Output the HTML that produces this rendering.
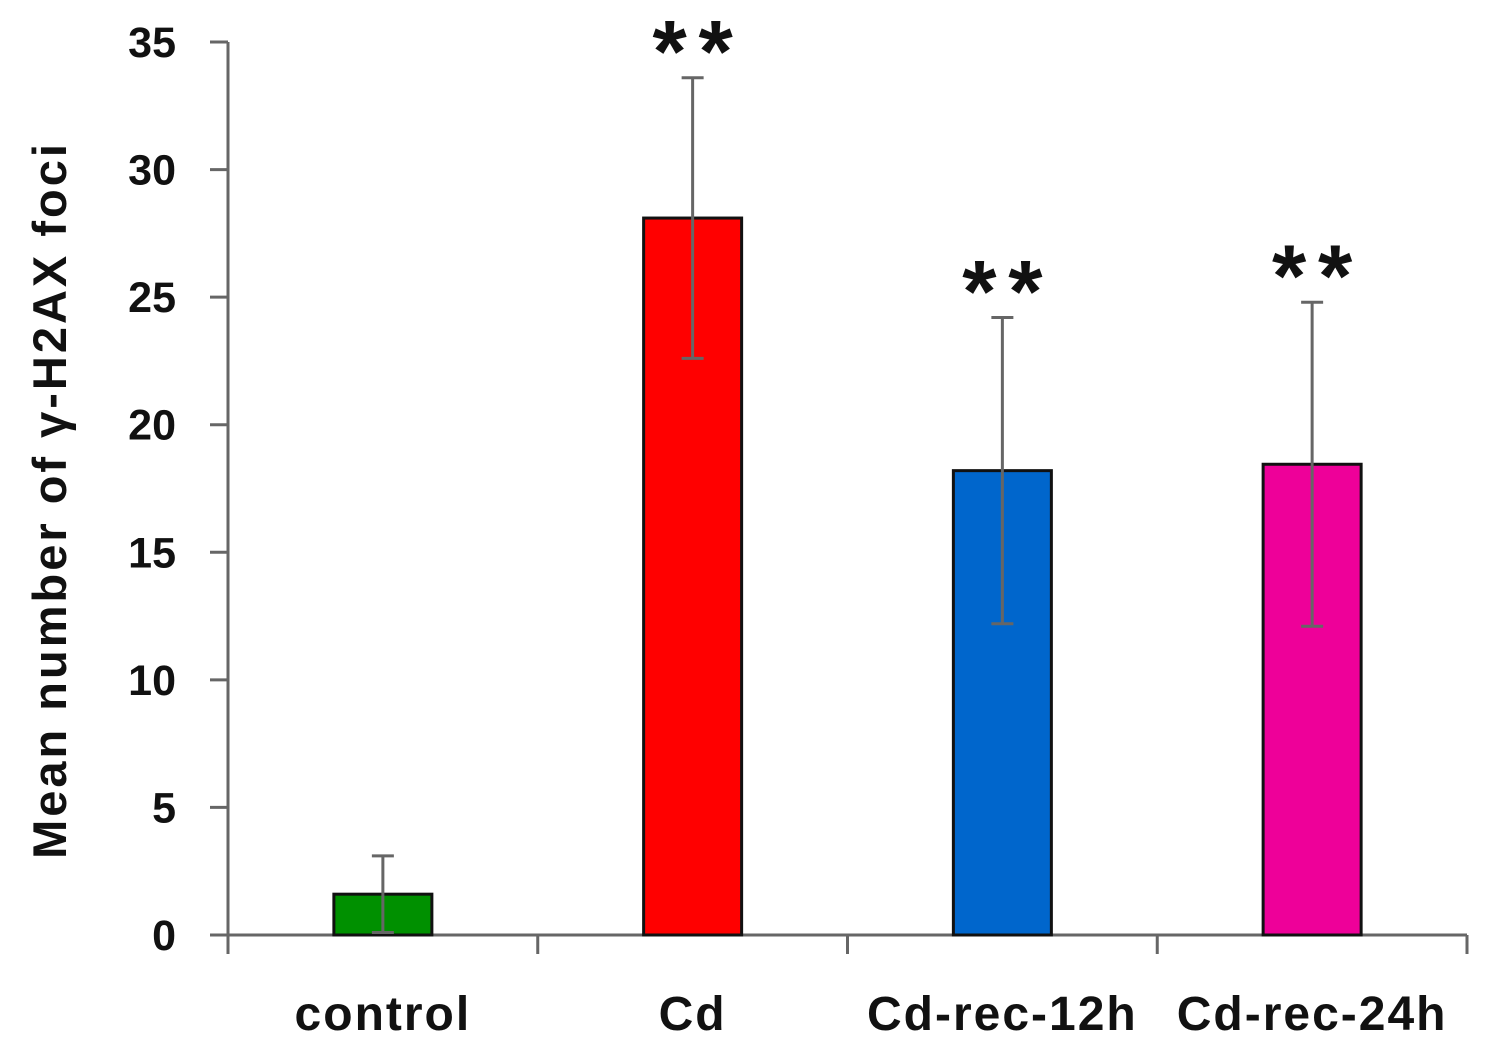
<!DOCTYPE html>
<html><head><meta charset="utf-8"><style>
html,body{margin:0;padding:0;background:#fff;}
svg{display:block;font-family:"Liberation Sans",sans-serif;}
</style></head><body>
<svg id="chart" width="1491" height="1062">
<g id="axes"></g><g id="bars"></g>
<text transform="translate(66,500) rotate(-90)" text-anchor="middle" font-size="47" font-weight="bold" letter-spacing="3" fill="#111">Mean number of  γ-H2AX foci</text>
</svg>
<script>
const categories=["control","Cd","Cd-rec-12h","Cd-rec-24h"];
const values=[1.6,28.1,18.2,18.45];
const errors=[1.5,5.5,6.0,6.35];
const colors=["#009000","#ff0000","#0066cc","#ee0099"];
const stars=["","**","**","**"];
const yTicks=[0,5,10,15,20,25,30,35];
const NS="http://www.w3.org/2000/svg";
const x0=228,x1=1467,y0=935,yTop=42,ymax=35;
const bw=(x1-x0)/categories.length;
const Y=v=>y0-(v/ymax)*(y0-yTop);
const X=i=>x0+bw*(i+0.5);
function mk(tag,attrs,parent,txt){const e=document.createElementNS(NS,tag);for(const k in attrs)e.setAttribute(k,attrs[k]);if(txt!==undefined)e.textContent=txt;parent.appendChild(e);return e;}
const axes=document.getElementById('axes'),bars=document.getElementById('bars');
let e;
e=mk('line',{x1:x0,y1:yTop,x2:x0,y2:y0+18,stroke:'#666','stroke-width':3},axes);


yTicks.forEach(t=>{
 e=mk('line',{x1:x0-18,y1:Y(t),x2:x0,y2:Y(t),stroke:'#666','stroke-width':3},axes);
 
 
 e=mk('text',{x:176,y:Y(t)+15,'text-anchor':'end','font-size':43,'font-weight':'bold',fill:'#111'},axes,t);
 
 
});
for(let i=0;i<=categories.length;i++){
 e=mk('line',{x1:x0+bw*i,y1:y0,x2:x0+bw*i,y2:y0+19,stroke:'#666','stroke-width':3},axes);
 
 
}
categories.forEach((c,i)=>{
 const cx=X(i),top=Y(values[i]);
 e=mk('rect',{x:cx-49,y:top,width:98,height:y0-top,fill:colors[i],stroke:'#111','stroke-width':3},bars);
 
 
 const et=Y(values[i]+errors[i]),eb=Y(Math.max(0,values[i]-errors[i]));
 e=mk('path',{d:`M${cx},${eb}V${et}M${cx-11},${et}H${cx+11}M${cx-11},${eb}H${cx+11}`,stroke:'#666','stroke-width':3,fill:'none'},bars);
 
 
 e=mk('text',{x:cx,y:1030,'text-anchor':'middle','font-size':48,'font-weight':'bold','letter-spacing':2,fill:'#111'},bars,c);
 
 
 if(stars[i]){
  const s=stars[i].split('');
  s.forEach((ch,k)=>{
   e=mk('text',{x:cx-23+46*k,y:et+4,'text-anchor':'middle','font-size':88,'font-weight':'bold',fill:'#111'},bars,ch);
   
   
  });
 }
});
e=mk('line',{x1:x0,y1:y0,x2:x1,y2:y0,stroke:'#666','stroke-width':3},axes);


</script>
</body></html>
